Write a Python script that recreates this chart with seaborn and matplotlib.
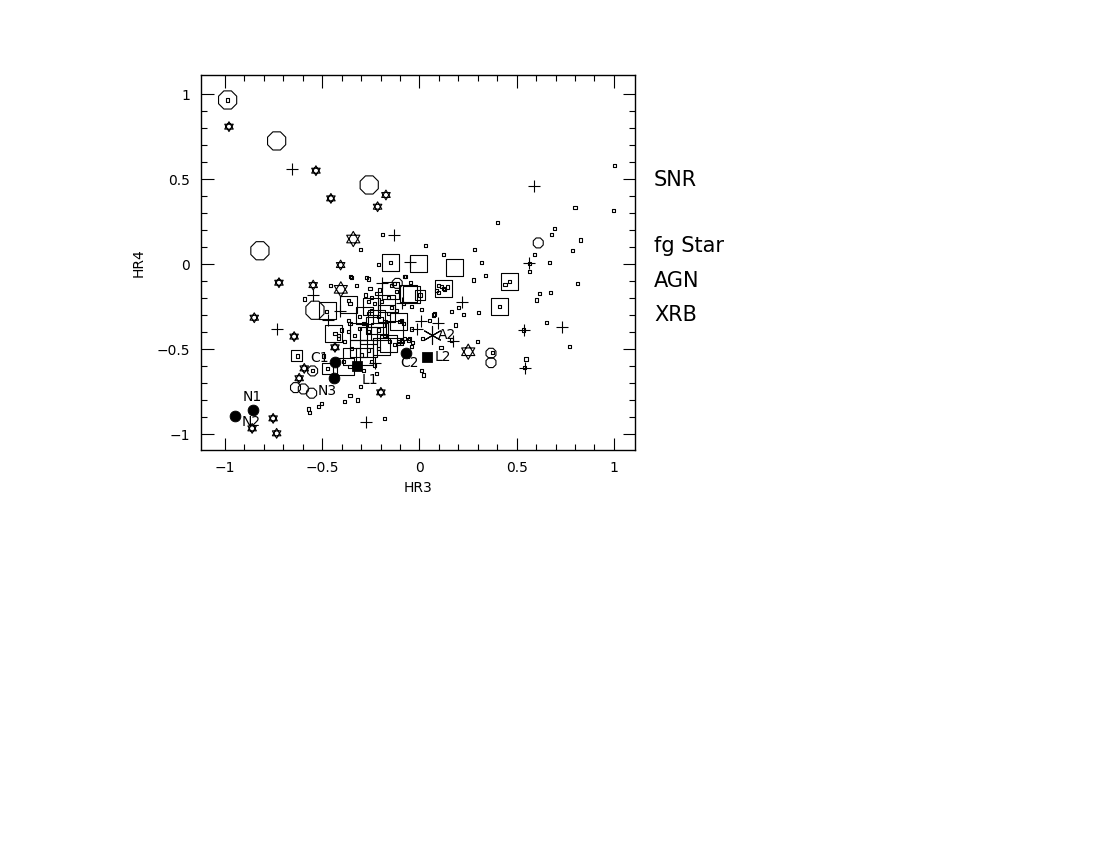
import numpy as np
import matplotlib
matplotlib.use("Agg")
import matplotlib.pyplot as plt
from matplotlib.path import Path
from matplotlib.ticker import MultipleLocator, FixedLocator
import seaborn as sns

# tiny open squares (all sources)
small_x = [-0.986, -0.191, -0.302, -0.210, 1.005, 0.80, 1.0, 0.40, 0.693, 0.68, 0.827, 0.032,
           0.789, 0.282, 0.122, 0.594, 0.321, 0.667, 0.565, 0.339, 0.277, 0.465, 0.44, 0.813,
           0.122, 0.10, 0.09, 0.145, -0.073, 0.618, 0.674, 0.602, 0.414, 0.2, 0.165, 0.229,
           0.302, 0.076, 0.013, 0.654, 0.537, 0.565, 0.186, 0.299, 0.111, 0.374, 0.548, 0.542,
           0.77, 0.011, 0.02, -0.063, -0.349, -0.455, -0.262, -0.59, -0.302, -0.181, -0.572,
           -0.563, -0.503, -0.517, -0.387, -0.320, -0.357, -0.04, 0.05, -0.049, -0.086, -0.035,
           0.016, -0.352, -0.272, -0.323, -0.075, -0.044, -0.366, -0.357, -0.254, -0.203, -0.277,
           -0.246, -0.22, -0.263, -0.229, -0.194, -0.16, -0.143, -0.126, -0.117, -0.143, -0.117,
           -0.246, -0.263, -0.212, -0.306, -0.366, -0.357, -0.289, -0.177, -0.092, -0.04, -0.083,
           -0.4, -0.366, -0.332, -0.306, -0.263, -0.212, -0.177, -0.152, -0.126, -0.109, -0.092,
           -0.075, -0.057, -0.212, -0.263, -0.297, -0.349, -0.383, -0.417, -0.392, -0.357, -0.246,
           -0.229, -0.289, -0.22, -0.477, -0.434, -0.417, -0.495, -0.628, -0.472, -0.549, 0.071,
           -0.1, -0.083, 0.165, -0.109, -0.092, -0.04, 0.114, 0.131, 0.097, 0.003, -0.147, -0.16]
small_y = [0.965, 0.176, 0.086, -0.002, 0.58, 0.33, 0.314, 0.245, 0.21, 0.175, 0.141, 0.11,
           0.082, 0.086, 0.057, 0.057, 0.01, 0.01, -0.045, -0.069, -0.094, -0.104, -0.12, -0.114,
           -0.143, -0.125, -0.155, -0.135, -0.071, -0.176, -0.167, -0.212, -0.251, -0.255, -0.28, -0.296,
           -0.284, -0.294, -0.265, -0.345, -0.388, 0.004, -0.359, -0.457, -0.49, -0.52, -0.559, -0.61,
           -0.486, -0.624, -0.653, -0.78, -0.078, -0.124, -0.088, -0.206, -0.718, -0.908, -0.853,
           -0.873, -0.82, -0.839, -0.81, -0.80, -0.771, -0.382, -0.333, -0.437, -0.457, -0.463,
           -0.437, -0.071, -0.078, -0.129, -0.071, -0.11, -0.216, -0.231, -0.143, -0.153, -0.182,
           -0.196, -0.176, -0.222, -0.231, -0.222, -0.196, -0.124, -0.114, -0.163, -0.255, -0.271,
           -0.271, -0.29, -0.31, -0.31, -0.33, -0.349, -0.349, -0.339, -0.33, -0.251, -0.231,
           -0.388, -0.398, -0.418, -0.378, -0.398, -0.388, -0.418, -0.457, -0.476, -0.466, -0.453,
           -0.437, -0.447, -0.496, -0.506, -0.535, -0.496, -0.457, -0.437, -0.575, -0.604, -0.575,
           -0.594, -0.624, -0.643, -0.28, -0.408, -0.418, -0.541, -0.541, -0.614, -0.629, -0.3,
           -0.339, -0.349, -0.447, -0.457, -0.466, -0.486, -0.133, -0.149, -0.169, -0.182, 0.008, -0.29]

# large open squares
bigsq_x = [-0.147, -0.003, 0.179, 0.465, 0.122, 0.414, -0.147, -0.057, -0.475, -0.366, -0.443,
           -0.378, -0.28, -0.22, -0.169, -0.109, -0.315, -0.263, -0.203, -0.194, -0.263, -0.315,
           -0.349, -0.28, -0.16, -0.126, -0.246, -0.229, -0.169, -0.04]
bigsq_y = [0.008, 0.004, -0.022, -0.104, -0.143, -0.251, -0.153, -0.176, -0.272, -0.241, -0.408,
           -0.604, -0.30, -0.32, -0.29, -0.339, -0.398, -0.418, -0.398, -0.486, -0.496, -0.496,
           -0.545, -0.545, -0.466, -0.388, -0.251, -0.359, -0.231, -0.182]

# medium open squares
midsq_x = [-0.631, -0.472, 0.003]
midsq_y = [-0.539, -0.614, -0.182]

# octagons
octbig_x = [-0.986, -0.734, -0.258, -0.820, -0.537]
octbig_y = [0.965, 0.724, 0.465, 0.078, -0.272]
octsm_x = [0.611, -0.114, 0.368, 0.368, -0.549, -0.637, -0.597, -0.554]
octsm_y = [0.124, -0.114, -0.525, -0.58, -0.629, -0.727, -0.735, -0.76]

# hexagrams
hex_x = [-0.979, -0.532, -0.455, -0.172, -0.215, -0.405, -0.722, -0.546, -0.849, -0.644,
         -0.434, -0.592, -0.618, -0.198, -0.860, -0.752, -0.734]
hex_y = [0.808, 0.549, 0.386, 0.406, 0.337, -0.006, -0.11, -0.124, -0.316, -0.427,
         -0.49, -0.614, -0.672, -0.755, -0.967, -0.908, -0.996]
hexbig_x = [-0.340, -0.404, 0.251]
hexbig_y = [0.147, -0.149, -0.516]

# plus signs
plus_x = [-0.657, -0.133, -0.049, 0.590, 0.565, 0.217, 0.731, 0.537, 0.006, 0.094, -0.014,
          0.171, 0.542, -0.194, -0.092, -0.546, -0.469, -0.409, -0.734, -0.275, -0.229]
plus_y = [0.559, 0.172, 0.014, 0.457, 0.004, -0.225, -0.369, -0.388, -0.333, -0.349, -0.382,
          -0.451, -0.61, -0.11, -0.231, -0.18, -0.33, -0.276, -0.384, -0.927, -0.584]

# labelled sources
circ_names = ["N1", "N2", "N3", "C1", "C2"]
circ_x = [-0.858, -0.949, -0.441, -0.434, -0.069]
circ_y = [-0.859, -0.894, -0.672, -0.575, -0.525]
circ_off = [(0, 13), (16, -6), (-6, -13), (-15, 4), (4, -10)]
fsq_names = ["L1", "L2"]
fsq_x = [-0.323, 0.037]
fsq_y = [-0.6, -0.545]
fsq_off = [(13, -14), (16, 0)]
ast_names = ["A2"]
ast_x = [0.066]
ast_y = [-0.42]
ast_off = [(15, 0)]

side_labels = ["SNR", "fg Star", "AGN", "XRB"]
side_y_px = [180, 246, 281, 315]

sns.set_style("ticks")
plt.rcParams['font.family'] = ['DejaVu Sans']
plt.rcParams.update({"text.color": "black", "axes.labelcolor": "black",
                     "xtick.color": "black", "ytick.color": "black",
                     "axes.edgecolor": "black"})

fig = plt.figure(figsize=(11, 8.5), dpi=100)
ax = fig.add_axes([0.1827, 0.4706, 0.3945, 0.4412])

up = [(0, 1), (-0.866, -0.5), (0.866, -0.5), (0, 1)]
dn = [(0, -1), (-0.866, 0.5), (0.866, 0.5), (0, -1)]
hexagram = Path.make_compound_path(
    Path(up, [Path.MOVETO, Path.LINETO, Path.LINETO, Path.CLOSEPOLY]),
    Path(dn, [Path.MOVETO, Path.LINETO, Path.LINETO, Path.CLOSEPOLY]))

lw = 0.8
op = dict(facecolor="none", edgecolor="black", linewidth=lw, ax=ax, legend=False, zorder=3)
sns.scatterplot(x=bigsq_x, y=bigsq_y, marker="s", s=150, **op)
sns.scatterplot(x=midsq_x, y=midsq_y, marker="s", s=60, **op)
sns.scatterplot(x=octbig_x, y=octbig_y, marker="8", s=200, **op)
sns.scatterplot(x=octsm_x, y=octsm_y, marker="8", s=60, **op)
sns.scatterplot(x=hex_x, y=hex_y, marker=hexagram, s=50, **op)
sns.scatterplot(x=hexbig_x, y=hexbig_y, marker=hexagram, s=120, **op)
sns.scatterplot(x=small_x, y=small_y, marker="s", s=5, **op)
sns.scatterplot(x=plus_x, y=plus_y, marker="+", s=85, color="black", linewidth=lw,
                ax=ax, legend=False, zorder=3)
sns.scatterplot(x=ast_x, y=ast_y, marker=(6, 2, 0), s=170, color="black", linewidth=lw,
                ax=ax, legend=False, zorder=4)
sns.scatterplot(x=circ_x, y=circ_y, marker="o", s=60, color="black", edgecolor="black",
                ax=ax, legend=False, zorder=4)
sns.scatterplot(x=fsq_x, y=fsq_y, marker="s", s=50, color="black", edgecolor="black",
                ax=ax, legend=False, zorder=4)

for names, xs, ys, offs in [(circ_names, circ_x, circ_y, circ_off),
                            (fsq_names, fsq_x, fsq_y, fsq_off),
                            (ast_names, ast_x, ast_y, ast_off)]:
    for n, x, y, o in zip(names, xs, ys, offs):
        ax.annotate(n, (x, y), xytext=o, textcoords="offset pixels",
                    ha="center", va="center", fontsize=10, zorder=5)

ax.set_xlim(-1.123, 1.108)
ax.set_ylim(-1.094, 1.112)
minor_pos = [-1.0, -0.9, -0.8, -0.7, -0.6, -0.5, -0.4, -0.3, -0.2, -0.1, 0.0,
             0.1, 0.2, 0.3, 0.4, 0.5, 0.6, 0.7, 0.8, 0.9, 1.0]
ax.xaxis.set_minor_locator(FixedLocator(minor_pos))
ax.yaxis.set_minor_locator(FixedLocator(minor_pos))
ax.set_xticks([-1, -0.5, 0, 0.5, 1])
ax.set_xticklabels(["\u22121", "\u22120.5", "0", "0.5", "1"])
ax.set_yticks([-1, -0.5, 0, 0.5, 1])
ax.set_yticklabels(["\u22121", "\u22120.5", "0", "0.5", "1"])
ax.tick_params(which="both", direction="in", top=True, right=True, labelsize=10, width=0.8)
ax.tick_params(which="major", length=9, pad=8)
ax.tick_params(which="minor", length=4.5)
for sp in ax.spines.values():
    sp.set_visible(True)
    sp.set_linewidth(1.0)
ax.set_xlabel("HR3", fontsize=10, labelpad=4)
ax.set_ylabel("HR4", fontsize=10, labelpad=8)

for lab, py in zip(side_labels, side_y_px):
    fig.text(654 / 1100, 1 - py / 850, lab, fontsize=15, ha="left", va="center")

fig.savefig("out.png", dpi=100)
